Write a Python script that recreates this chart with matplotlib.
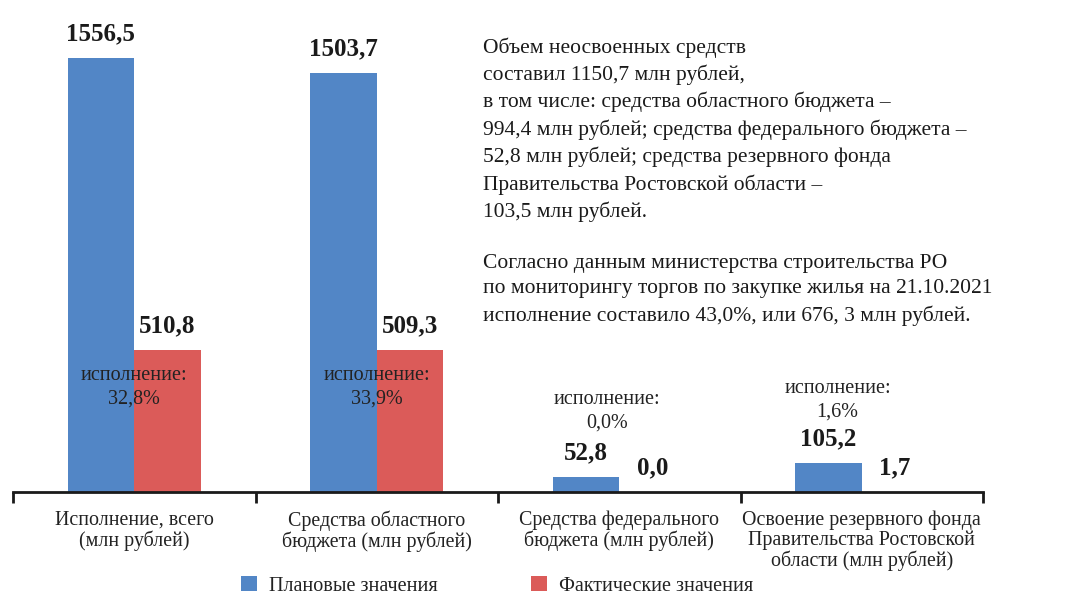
import matplotlib
matplotlib.use('Agg')
import matplotlib.pyplot as plt
import numpy as np

categories = ['Исполнение, всего\n(млн рублей)',
              'Средства областного\nбюджета (млн рублей)',
              'Средства федерального\nбюджета (млн рублей)',
              'Освоение резервного фонда\nПравительства Ростовской\nобласти (млн рублей)']
plan = [1556.5, 1503.7, 52.8, 105.2]
fact = [510.8, 509.3, 0.0, 1.7]
share = ['32,8%', '33,9%', '0,0%', '1,6%']

note = ('Объем неосвоенных средств\n'
        'составил 1150,7 млн рублей,\n'
        'в том числе: средства областного бюджета –\n'
        '994,4 млн рублей; средства федерального бюджета –\n'
        '52,8 млн рублей; средства резервного фонда\n'
        'Правительства Ростовской области –\n'
        '103,5 млн рублей.\n'
        '\n'
        'Согласно данным министерства строительства РО\n'
        'по мониторингу торгов по закупке жилья на 21.10.2021\n'
        'исполнение составило 43,0%, или 676, 3 млн рублей.')

plt.rcParams['font.family'] = 'Liberation Serif'
blue = '#5286C6'
red = '#DB5B59'

fig = plt.figure(figsize=(10.82, 5.97), dpi=100)
ax = fig.add_axes([13 / 1082, 105 / 597, 970 / 1082, 446 / 597])

x = np.arange(len(categories))
w = 0.275
b1 = ax.bar(x - w / 2, plan, w, color=blue, label='Плановые значения')
b2 = ax.bar(x + w / 2, fact, w, color=red, label='Фактические значения')

fmt = lambda v: f'{v:.1f}'.replace('.', ',')
for bars, vals in [(b1, plan), (b2, fact)]:
    for r, v in zip(bars, vals):
        ax.annotate(fmt(v), (r.get_x() + r.get_width() / 2, v),
                    xytext=(0, 9), textcoords='offset points',
                    ha='center', va='bottom', fontsize=18, fontweight='bold',
                    color='#1a1a1a')

# "исполнение" notes
note_dx = [0, 0, -0.05, -0.1]
note_y = [375, 375, 290, 328]
for i, s in enumerate(share):
    ax.text(i + note_dx[i], note_y[i], 'исполнение:\n' + s, ha='center',
            va='center', fontsize=14.5, color='#222222', linespacing=1.3)

ax.set_xlim(-0.5, 3.5)
ax.set_ylim(0, 1600)
ax.set_yticks([])
for s in ['top', 'right', 'left']:
    ax.spines[s].set_visible(False)
ax.spines['bottom'].set_linewidth(2)
ax.spines['bottom'].set_color('#1a1a1a')
ax.set_xticks(np.arange(-0.5, 4, 1))
ax.set_xticklabels([])
ax.tick_params(axis='x', length=8, width=2, color='#1a1a1a')
for i, c in enumerate(categories):
    ax.text(i, -0.042, c, transform=ax.get_xaxis_transform(), ha='center',
            va='top', fontsize=14.4, color='#222222', linespacing=1.02)

fig.text(483 / 1082, 1 - 37 / 597, note, ha='left', va='top', fontsize=15.5,
         color='#1a1a1a', linespacing=1.45)

fig.legend(handles=[b1, b2], loc='lower center', ncol=2,
           bbox_to_anchor=(497 / 1082, -0.028), frameon=False, fontsize=14.5,
           handlelength=0.8, handleheight=0.8, columnspacing=4.6,
           handletextpad=0.6, labelcolor='#222222')

fig.savefig('out.png', dpi=100)
